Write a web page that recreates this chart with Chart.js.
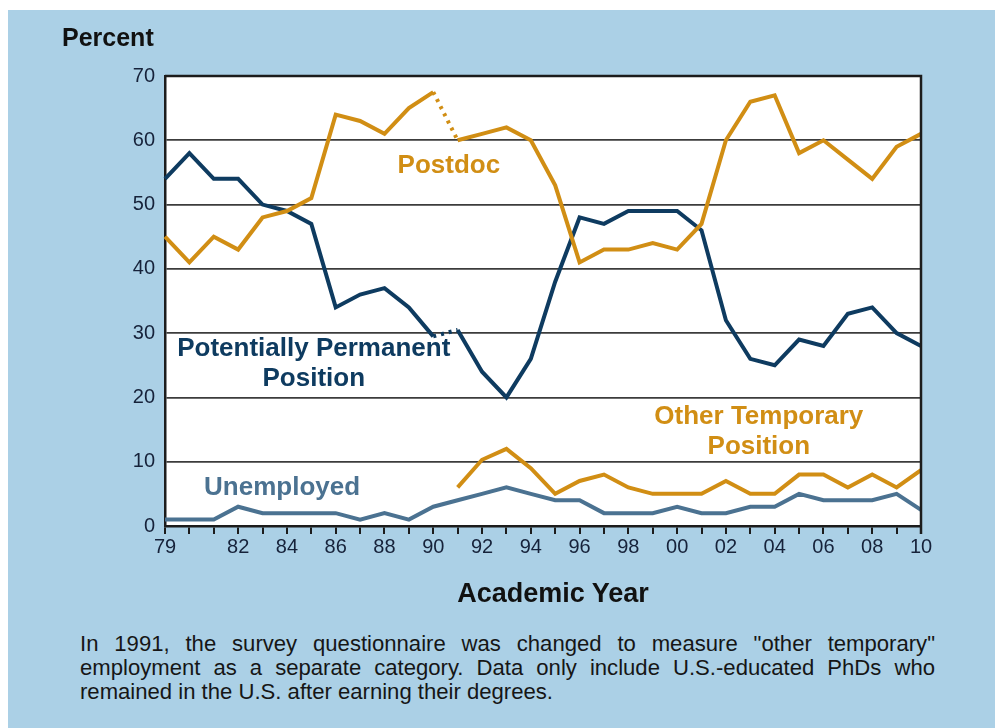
<!DOCTYPE html>
<html>
<head>
<meta charset="utf-8">
<script src="https://cdn.jsdelivr.net/npm/chart.js@4.4.1/dist/chart.umd.min.js"></script>
<style>
  body { margin: 0; background: #fff; width: 995px; height: 728px; overflow: hidden; font-family: "Liberation Sans", Arial, sans-serif; }
  .panel { position: absolute; left: 8px; top: 10px; right: 0; bottom: 0; background: #abd0e6; }
  .wrap { position: absolute; left: 0; top: 0; width: 995px; height: 620px; }
  .ytitle { position: absolute; left: 62px; top: 22px; font-weight: bold; font-size: 25px; line-height: 30px; color: #111; }
  .xtitle { position: absolute; left: 0; width: 1106px; top: 577px; text-align: center; font-weight: bold; font-size: 27px; line-height: 32px; color: #111; }
  .note { position: absolute; left: 80px; top: 632px; color: #161616; }
  .note div { font-size: 22px; line-height: 24px; white-space: nowrap; transform-origin: left top; }
</style>
</head>
<body>
<div class="panel"></div>
<div class="wrap"><canvas id="chart" width="995" height="620"></canvas></div>
<div class="ytitle">Percent</div>
<div class="xtitle">Academic Year</div>
<div class="note" id="note"></div>
<script>
// Jahre 1979 - 2010
const years = [1979, 1980, 1981, 1982, 1983, 1984, 1985, 1986, 1987, 1988, 1989, 1990,
  1991, 1992, 1993, 1994, 1995, 1996, 1997, 1998, 1999, 2000, 2001, 2002, 2003, 2004,
  2005, 2006, 2007, 2008, 2009, 2010];
const xLabelYears = [1979, 1982, 1984, 1986, 1988, 1990, 1992, 1994, 1996, 1998, 2000,
  2002, 2004, 2006, 2008, 2010];

const postdoc = [45, 41, 45, 43, 48, 49, 51, 64, 63, 61, 65, 67.5,
  60, 61, 62, 60, 53, 41, 43, 43, 44, 43, 47, 60, 66, 67,
  58, 60, 57, 54, 59, 61];
const permanent = [54, 58, 54, 54, 50, 49, 47, 34, 36, 37, 34, 29.5,
  30.5, 24, 20, 26, 38, 48, 47, 49, 49, 49, 46, 32, 26, 25,
  29, 28, 33, 34, 30, 28];
const otherTemp = [null, null, null, null, null, null, null, null, null, null, null, null,
  6, 10.3, 12, 9, 5, 7, 8, 6, 5, 5, 5, 7, 5, 5,
  8, 8, 6, 8, 6, 8.7];
const unemployed = [1, 1, 1, 3, 2, 2, 2, 2, 1, 2, 1, 3,
  4, 5, 6, 5, 4, 4, 2, 2, 2, 3, 2, 2, 3, 3,
  5, 4, 4, 4, 5, 2.5];

const noteLines = [
  'In 1991, the survey questionnaire was changed to measure "other temporary"',
  'employment as a separate category.  Data only include U.S.-educated PhDs who',
  'remained in the U.S. after earning their degrees.'
];

const ORANGE = '#d18e14';
const NAVY = '#0e3b60';
const STEEL = '#4b7291';

// Beschriftungen direkt im Diagramm (Jahr, Wert)
const seriesLabels = [
  { lines: ['Postdoc'], year: 1990.64, value: 56, color: ORANGE },
  { lines: ['Potentially Permanent', 'Position'], year: 1985.1, value: 27.6, color: NAVY },
  { lines: ['Other Temporary', 'Position'], year: 2003.35, value: 17, color: ORANGE },
  { lines: ['Unemployed'], year: 1983.8, value: 5.9, color: STEEL }
];

// Fussnote: schmale Schrift nachbilden, Zeilen 1 und 2 im Blocksatz
(function buildNote() {
  const note = document.getElementById('note');
  const fullWidth = 855, lastWidth = 473;
  const divs = noteLines.map(t => {
    const d = document.createElement('div');
    const s = document.createElement('span');
    s.textContent = t;
    d.appendChild(s);
    note.appendChild(d);
    return d;
  });
  const sx = lastWidth / divs[2].firstChild.getBoundingClientRect().width;
  divs.forEach((d, i) => {
    d.style.transform = 'scaleX(' + sx + ')';
    if (i < 2) {
      d.style.width = (fullWidth / sx) + 'px';
      d.style.whiteSpace = 'normal';
      d.style.textAlign = 'justify';
      d.style.textAlignLast = 'justify';
    }
  });
})();

// Gepunkteter Abschnitt beim Fragebogenwechsel 1990 -> 1991
const breakIndex = years.indexOf(1990);
const dashAtBreak = (ctx) => ctx.p0DataIndex === breakIndex ? [3, 5] : undefined;

// Weisser Hintergrund, Rahmen oben und rechts
const frame = {
  id: 'frame',
  beforeDraw(chart) {
    const { ctx, chartArea: a } = chart;
    ctx.save();
    ctx.fillStyle = '#fff';
    ctx.fillRect(a.left, a.top, a.right - a.left, a.bottom - a.top);
    ctx.restore();
  },
  afterDraw(chart) {
    const { ctx, chartArea: a } = chart;
    ctx.save();
    ctx.strokeStyle = '#1c1c1c';
    ctx.lineWidth = 2.5;
    ctx.beginPath();
    ctx.moveTo(a.left, a.top);
    ctx.lineTo(a.right, a.top);
    ctx.lineTo(a.right, a.bottom + 8);
    ctx.stroke();
    ctx.restore();
  }
};

const labelPlugin = {
  id: 'seriesLabels',
  afterDatasetsDraw(chart) {
    const { ctx, scales } = chart;
    const x0 = scales.x.getPixelForValue(0);
    const step = scales.x.getPixelForValue(1) - x0;
    ctx.save();
    ctx.font = 'bold 26px "Liberation Sans", Arial, sans-serif';
    ctx.textAlign = 'center';
    ctx.textBaseline = 'middle';
    seriesLabels.forEach(l => {
      const px = x0 + (l.year - years[0]) * step;
      const py = scales.y.getPixelForValue(l.value);
      ctx.fillStyle = l.color;
      l.lines.forEach((t, i) => ctx.fillText(t, px, py + i * 30));
    });
    ctx.restore();
  }
};

new Chart(document.getElementById('chart'), {
  type: 'line',
  data: {
    labels: years,
    datasets: [
      { label: 'Postdoc', data: postdoc, borderColor: ORANGE, segment: { borderDash: dashAtBreak } },
      { label: 'Potentially Permanent Position', data: permanent, borderColor: NAVY, segment: { borderDash: dashAtBreak } },
      { label: 'Other Temporary Position', data: otherTemp, borderColor: ORANGE },
      { label: 'Unemployed', data: unemployed, borderColor: STEEL }
    ]
  },
  options: {
    responsive: false,
    animation: false,
    layout: { padding: { left: 0, top: 76, right: 74, bottom: 0 } },
    elements: {
      line: { borderWidth: 4, tension: 0, borderJoinStyle: 'miter', borderCapStyle: 'butt' },
      point: { radius: 0 }
    },
    plugins: { legend: { display: false }, tooltip: { enabled: false } },
    scales: {
      x: {
        offset: false,
        afterFit: (s) => { s.height = 94; },
        grid: { display: true, drawOnChartArea: false, drawTicks: true, tickLength: 8, color: '#1c1c1c', lineWidth: 2 },
        border: { display: true, color: '#1c1c1c', width: 2.5 },
        ticks: {
          autoSkip: false, maxRotation: 0, padding: 1, color: '#16223a',
          font: { size: 20, family: '"Liberation Sans", Arial, sans-serif' },
          callback: function (v, i) {
            const y = years[i];
            return xLabelYears.includes(y) ? String(y).slice(2) : '';
          }
        }
      },
      y: {
        min: 0, max: 70,
        afterFit: (s) => { s.width = 165; },
        grid: { color: '#3c3c3c', lineWidth: 1.8, drawTicks: false },
        border: { display: true, color: '#1c1c1c', width: 2.5 },
        ticks: {
          stepSize: 10, padding: 10, color: '#16223a',
          font: { size: 20, family: '"Liberation Sans", Arial, sans-serif' }
        }
      }
    }
  },
  plugins: [frame, labelPlugin]
});
</script>
</body>
</html>
